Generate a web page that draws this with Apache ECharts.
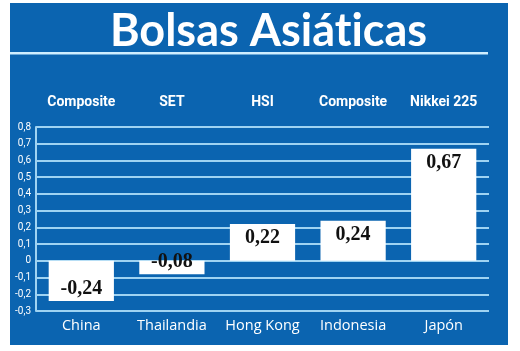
<!DOCTYPE html>
<html>
<head>
<meta charset="utf-8">
<script src="https://cdn.jsdelivr.net/npm/echarts@6/dist/echarts.min.js"></script>
<style>
  html, body { margin: 0; padding: 0; background: #fff; }
  #chart { width: 520px; height: 351px; }
</style>
</head>
<body>
<div id="chart"></div>
<script>
const titleText = "Bolsas Asiáticas";
const countries = ["China", "Thailandia", "Hong Kong", "Indonesia", "Japón"];
const indices = ["Composite", "SET", "HSI", "Composite", "Nikkei 225"];
const changes = [-0.24, -0.08, 0.22, 0.24, 0.67];

const BLUE = "#0b64b0";
const GRID = "#9fd3f2";

const comma = (v, d) => v.toFixed(d).replace(".", ",");

// split the title after the "t" so Lato does not draw its "ti" ligature
const cut = titleText.indexOf("ti") + 1;

const chart = echarts.init(document.getElementById("chart"));
chart.setOption({
  backgroundColor: "#fff",
  animation: false,
  graphic: [
    { type: "rect", z: -10, shape: { x: 10, y: 3, width: 498, height: 342 }, style: { fill: BLUE } },
    { type: "rect", z: -5, shape: { x: 10, y: 52, width: 478, height: 2.5 }, style: { fill: "#cfeeff" } },
    {
      type: "text", left: 110, top: 9, z: 10,
      style: {
        text: "{t|" + titleText.slice(0, cut) + "}{t|" + titleText.slice(cut) + "}",
        rich: { t: { fill: "#fff", fontFamily: "Lato", fontWeight: "bold", fontSize: 45 } }
      }
    }
  ],
  grid: { left: 36, right: 31, top: 127, bottom: 40 },
  xAxis: [
    {
      type: "category", data: countries, position: "bottom",
      axisLine: { show: false }, axisTick: { show: false },
      axisLabel: { interval: 0, color: "#fff", fontFamily: "Open Sans", fontSize: 14.5, margin: 7 }
    },
    {
      type: "category", data: indices, position: "top",
      axisLine: { show: false }, axisTick: { show: false },
      axisLabel: { interval: 0, color: "#fff", fontFamily: "Roboto", fontWeight: "bold", fontSize: 14, margin: 18 }
    }
  ],
  yAxis: {
    type: "value", min: -0.3, max: 0.8, interval: 0.1,
    axisLine: { show: true, lineStyle: { color: GRID, width: 2 } },
    axisTick: { show: false },
    splitLine: { lineStyle: { color: GRID, width: 2 } },
    axisLabel: {
      color: "#fff", fontFamily: "Roboto", fontSize: 10, margin: 5,
      formatter: v => Math.abs(v) < 1e-9 ? "0" : comma(v, 1)
    }
  },
  series: [{
    type: "bar",
    data: changes.map(v => ({
      value: v,
      label: { position: v >= 0 ? "insideTop" : "insideBottom", distance: v >= 0 ? 4 : 2 }
    })),
    barWidth: "72%",
    itemStyle: { color: "#fff" },
    label: {
      show: true, color: "#111", fontFamily: "Liberation Serif", fontWeight: "bold", fontSize: 20,
      formatter: p => comma(p.value, 2)
    }
  }]
});
</script>
</body>
</html>
